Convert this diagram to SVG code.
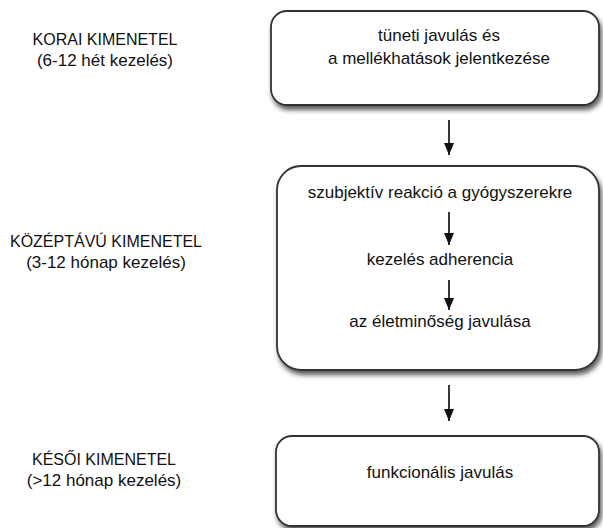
<svg xmlns="http://www.w3.org/2000/svg" width="603" height="528" viewBox="0 0 603 528">
<style>
.t{font-family:"Liberation Sans",Arial,sans-serif;font-size:17px;fill:#111;text-anchor:middle}
.c{font-size:16px}
.box{fill:#fff;stroke:#333;stroke-width:1.8;filter:url(#sh)}
.arr{stroke:#222;stroke-width:1.8;fill:none;marker-end:url(#ah)}
</style>
<defs>
<filter id="sh" x="-10%" y="-10%" width="125%" height="130%">
<feDropShadow dx="2" dy="4" stdDeviation="2.5" flood-color="#000" flood-opacity="0.65"/>
</filter>
<marker id="ah" markerWidth="12" markerHeight="10" refX="12" refY="5" orient="auto" markerUnits="userSpaceOnUse" viewBox="0 0 12 10">
<path d="M0,0 L12,5 L0,10 Z" fill="#111"/>
</marker>
</defs>
<g id="labels">
<text class="t c" x="105" y="45">KORAI KIMENETEL</text>
<text class="t" x="105" y="66">(6-12 hét kezelés)</text>
<text class="t c" x="106" y="247">KÖZÉPTÁVÚ KIMENETEL</text>
<text class="t" x="106" y="268">(3-12 hónap kezelés)</text>
<text class="t c" x="104" y="465">KÉSŐI KIMENETEL</text>
<text class="t" x="104" y="486">(&gt;12 hónap kezelés)</text>
</g>
<g id="node1">
<rect class="box" x="271" y="11" width="328" height="94" rx="16"/>
<text class="t" x="439" y="41">tüneti javulás és</text>
<text class="t" x="439" y="64">a mellékhatások jelentkezése</text>
</g>
<g id="node2">
<rect class="box" x="277" y="166" width="322" height="204" rx="24"/>
<text class="t" x="440" y="198">szubjektív reakció a gyógyszerekre</text>
<text class="t" x="440" y="265">kezelés adherencia</text>
<text class="t" x="440" y="327">az életminőség javulása</text>
</g>
<g id="node3">
<rect class="box" x="276" y="436" width="323" height="90" rx="16"/>
<text class="t" x="440" y="478">funkcionális javulás</text>
</g>
<g id="connectors">
<line class="arr" x1="449" y1="120" x2="449" y2="155"/>
<line class="arr" x1="449" y1="212" x2="449" y2="245"/>
<line class="arr" x1="449" y1="280" x2="449" y2="310"/>
<line class="arr" x1="449" y1="385" x2="449" y2="421"/>
</g>
</svg>
